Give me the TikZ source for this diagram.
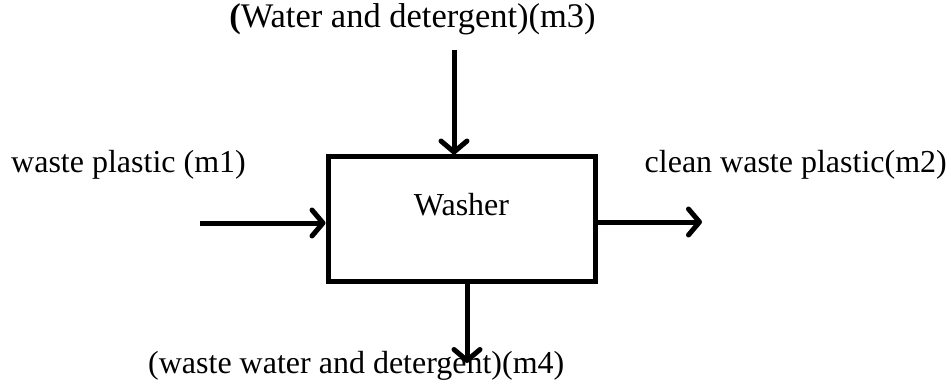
\documentclass[tikz,border=0pt]{standalone}
\usepackage{fontspec}
\setmainfont{Liberation Serif}
\usetikzlibrary{arrows.meta}
\begin{document}
\begin{tikzpicture}[x=1pt,y=-1pt,
  flow/.style={line width=5pt,-{Straight Barb[length=11pt,width=26pt,line width=5pt,round]}},
  unit/.style={draw,line width=5pt,minimum width=267pt,minimum height=124pt,inner sep=0pt},
  lbl/.style={font=\fontsize{32}{36}\selectfont,inner sep=0pt}]
  \useasboundingbox (0,0) rectangle (951,385);
  % process unit
  \node[unit] (washer) at (461.5,219) {};
  \node[lbl,anchor=base] (washertext) at (461.5,215) {Washer};
  % stream end points
  \coordinate (in1) at (200,223);
  \coordinate (out2) at (702,222);
  \coordinate (in3) at (454,50);
  \coordinate (out4) at (467,363);
  % streams
  \draw[flow] (in1) -- (in1 -| washer.west);
  \draw[flow] (out2 -| washer.east) -- (out2);
  \draw[flow] (in3) -- (in3 |- washer.north);
  \draw[flow] (out4 |- washer.south) -- (out4);
  % stream labels
  \node[lbl,anchor=base west] (m1) at (11,172) {waste plastic (m1)};
  \node[lbl,anchor=base east] (m2) at (947,172) {clean waste plastic(m2)};
  \node[lbl,anchor=base,font=\fontsize{34.5}{38}\selectfont] (m3) at (412.5,28) {\textbf{(}Water and detergent)(m3)};
  \node[lbl,anchor=base west] (m4) at (148,373) {(waste water and detergent)(m4)};
\end{tikzpicture}
\end{document}
